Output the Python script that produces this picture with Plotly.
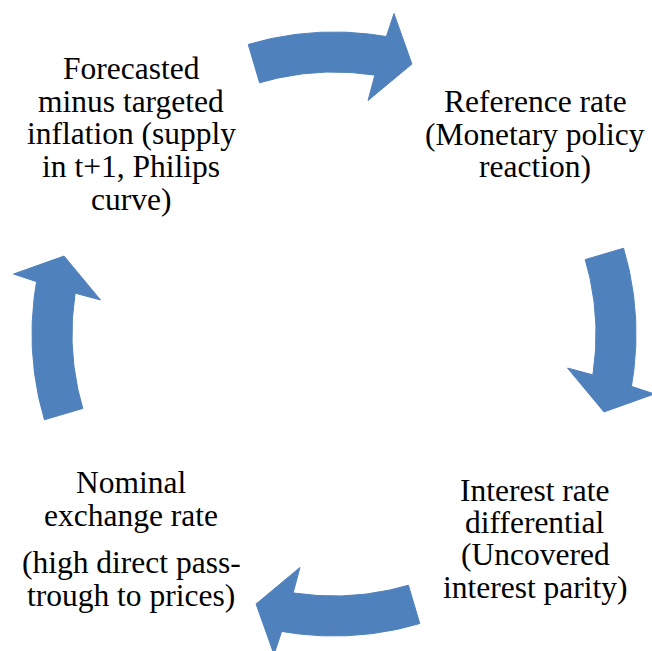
import numpy as np
import plotly.graph_objects as go

# Cycle diagram content
arrow_centers_deg = [0, 90, 180, 270]   # clockwise from top
label_blocks = [
    ["Reference rate", "(Monetary policy", "reaction)"],
    ["Interest rate", "differential", "(Uncovered", "interest parity)"],
    ["Nominal", "exchange rate", "(high direct pass-", "trough to prices)"],
    ["Forecasted", "minus targeted", "inflation (supply", "in t+1, Philips", "curve)"],
]
label_x = [535, 535, 131, 131]
label_y = [
    [101, 134, 166],
    [490, 522, 554, 587],
    [482, 515, 562, 595],
    [68, 101, 133, 166, 199],
]

W, H = 652, 651
CX, CY = 334, 334
R_OUT, R_IN = 302, 262
R_HEAD_OUT, R_HEAD_IN, R_TIP = 326, 236, 281
TAIL = -16.5
HEAD_BASE_OUT, HEAD_BASE_IN = 10.6, 8.3
TIP = 16.1
COLOR = "#4F81BD"


def pt(r, deg):
    a = np.radians(deg)
    return CX + r * np.sin(a), CY - r * np.cos(a)


fig = go.Figure()
for c in arrow_centers_deg:
    xs, ys = [], []
    base_o = HEAD_BASE_OUT - (HEAD_BASE_OUT - HEAD_BASE_IN) * (R_HEAD_OUT - R_OUT) / (R_HEAD_OUT - R_HEAD_IN)
    base_i = HEAD_BASE_OUT - (HEAD_BASE_OUT - HEAD_BASE_IN) * (R_HEAD_OUT - R_IN) / (R_HEAD_OUT - R_HEAD_IN)
    for d in np.linspace(TAIL, base_o, 40):
        x, y = pt(R_OUT, c + d); xs.append(x); ys.append(y)
    for r, d in [(R_HEAD_OUT, HEAD_BASE_OUT), (R_TIP, TIP), (R_HEAD_IN, HEAD_BASE_IN)]:
        x, y = pt(r, c + d); xs.append(x); ys.append(y)
    for d in np.linspace(base_i, TAIL, 40):
        x, y = pt(R_IN, c + d); xs.append(x); ys.append(y)
    xs.append(xs[0]); ys.append(ys[0])
    fig.add_trace(go.Scatter(x=xs, y=ys, mode="lines", fill="toself",
                             fillcolor=COLOR, line=dict(color=COLOR, width=1),
                             hoverinfo="skip", showlegend=False))

for lines, lx, lys in zip(label_blocks, label_x, label_y):
    for t, ly in zip(lines, lys):
        fig.add_annotation(x=lx, y=ly, text=t, showarrow=False,
                           xanchor="center", yanchor="middle",
                           font=dict(family="Liberation Serif, Times New Roman, serif",
                                     size=31.5, color="black"))

fig.update_xaxes(range=[0, W], visible=False, fixedrange=True)
fig.update_yaxes(range=[H, 0], visible=False, fixedrange=True)
fig.update_layout(width=W, height=H, margin=dict(l=0, r=0, t=0, b=0),
                  paper_bgcolor="white", plot_bgcolor="white")
fig.write_html("out.html", config={"displayModeBar": False})

with open("out.html", "r", encoding="utf-8") as f:
    html = f.read()
html = html.replace("<head>", "<head><style>html,body{margin:0;padding:0;overflow:hidden;}</style>", 1)
with open("out.html", "w", encoding="utf-8") as f:
    f.write(html)
